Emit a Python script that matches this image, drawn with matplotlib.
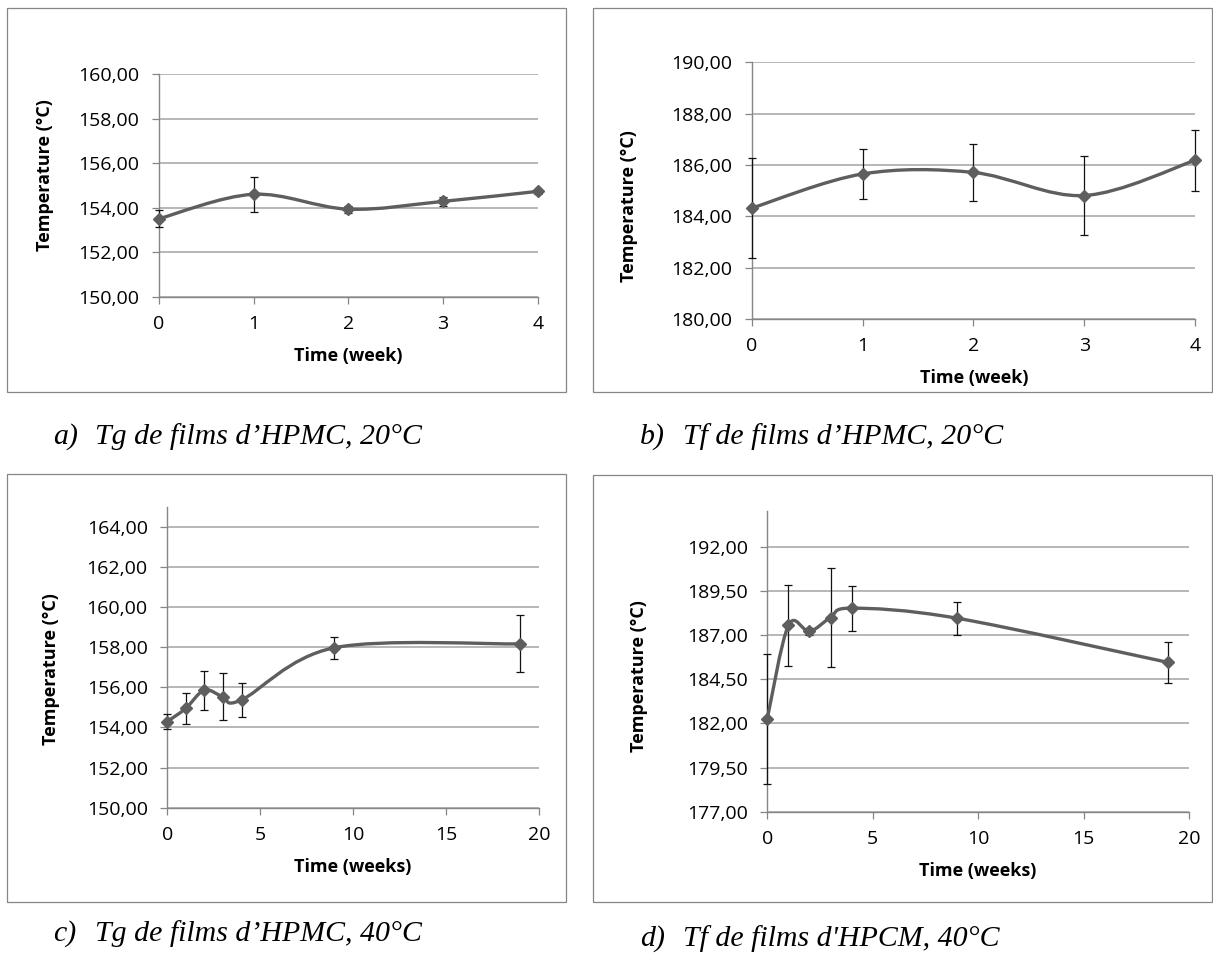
import numpy as np
import matplotlib
matplotlib.use("Agg")
import matplotlib.pyplot as plt
from matplotlib.path import Path
from matplotlib.patches import PathPatch, Rectangle
from matplotlib.ticker import FuncFormatter, MultipleLocator

# ---------------- DATA ----------------
weeks_20 = [0, 1, 2, 3, 4]
tg_20 = [153.50, 154.60, 153.93, 154.28, 154.73]
tg_20_err = [0.39, 0.78, 0.15, 0.20, 0.10]
tf_20 = [184.32, 185.65, 185.71, 184.81, 186.18]
tf_20_err = [1.96, 0.97, 1.12, 1.55, 1.18]

weeks_40 = [0, 1, 2, 3, 4, 9, 19]
tg_40 = [154.29, 154.95, 155.86, 155.53, 155.37, 157.97, 158.16]
tg_40_err = [0.37, 0.77, 0.97, 1.16, 0.83, 0.54, 1.42]
tf_40 = [182.27, 187.54, 187.20, 187.99, 188.52, 187.95, 185.45]
tf_40_err = [3.68, 2.31, 0.20, 2.79, 1.27, 0.93, 1.17]

letters = ["a)", "b)", "c)", "d)"]
captions = ["Tg de films d\u2019HPMC, 20°C", "Tf de films d\u2019HPMC, 20°C",
            "Tg de films d\u2019HPMC, 40°C", "Tf de films d'HPCM, 40°C"]
x_labels = ["Time (week)", "Time (week)", "Time (weeks)", "Time (weeks)"]
y_label = "Temperature (°C)"
# ----------------------------------------

W, H = 1213, 959
LINE_COL = "#5e5e5e"
GRID_COL = "#a3a3a3"
AXIS_COL = "#868686"

plt.rcParams['font.family'] = ['Open Sans', 'DejaVu Sans']

fig = plt.figure(figsize=(W / 100, H / 100), dpi=100)


def fx(x):
    return x / W


def fy(y):
    return 1 - y / H


def smooth_path(x, y):
    # Excel-like smoothed line: cubic bezier through the points
    p = np.column_stack([x, y]).astype(float)
    n = len(p)
    verts = [p[0]]
    codes = [Path.MOVETO]
    for i in range(n - 1):
        p_prev = p[i - 1] if i > 0 else p[i]
        p_next = p[i + 2] if i + 2 < n else p[i + 1]
        c1 = p[i] + (p[i + 1] - p_prev) / 6
        c2 = p[i + 1] - (p_next - p[i]) / 6
        verts += [c1, c2, p[i + 1]]
        codes += [Path.CURVE4] * 3
    return Path(verts, codes)


def make_panel(box, ax_px, x, y, err, xlim, xstep, ylim, ystep, ytop_tick,
               xlab, xlab_pos, ylab_pos):
    # frame around the chart
    bx0, by0, bx1, by1 = box
    fig.patches.append(Rectangle((fx(bx0), fy(by1)), fx(bx1 - bx0), (by1 - by0) / H,
                                 transform=fig.transFigure, fill=False,
                                 edgecolor=AXIS_COL, lw=0.9))
    x0, x1, yt, yb = ax_px
    ax = fig.add_axes([fx(x0), fy(yb), fx(x1 - x0), (yb - yt) / H])
    ax.set_xlim(*xlim)
    ax.set_ylim(*ylim)
    ax.xaxis.set_major_locator(MultipleLocator(xstep))
    yt_vals = np.arange(ylim[0], ytop_tick + 1e-6, ystep)
    ax.set_yticks(yt_vals)
    ax.yaxis.set_major_formatter(FuncFormatter(lambda v, _: f"{v:.2f}".replace('.', ',')))
    ax.yaxis.grid(True, color=GRID_COL, lw=1.1)
    ax.set_axisbelow(True)
    for s in ['top', 'right']:
        ax.spines[s].set_visible(False)
    for s in ['left', 'bottom']:
        ax.spines[s].set_color(AXIS_COL)
        ax.spines[s].set_linewidth(1.0)
    ax.tick_params(axis='both', direction='out', length=5, width=0.9, color=AXIS_COL,
                   labelsize=14, labelcolor='black')
    ax.tick_params(axis='y', pad=9)
    ax.tick_params(axis='x', pad=8)

    ax.errorbar(x, y, yerr=err, fmt='none', ecolor='#111111', elinewidth=0.9,
                capsize=2.8, capthick=0.9, clip_on=False, zorder=3)
    ax.add_patch(PathPatch(smooth_path(x, y), facecolor='none', edgecolor=LINE_COL,
                           lw=2.4, capstyle='round', clip_on=False, zorder=4))
    ax.plot(x, y, linestyle='none', marker='D', markersize=6, color=LINE_COL,
            clip_on=False, zorder=5)

    fig.text(fx(xlab_pos[0]), fy(xlab_pos[1]), xlab, ha='center', va='center',
             fontsize=13, fontweight='bold')
    fig.text(fx(ylab_pos[0]), fy(ylab_pos[1]), y_label, ha='center', va='center',
             rotation=90, fontsize=13, fontweight='bold')
    return ax


make_panel((7, 8, 566, 392), (158.8, 537.7, 74, 296.7), weeks_20, tg_20, tg_20_err,
           (0, 4), 1, (150, 160), 2, 160, x_labels[0], (348, 356), (45, 175))
make_panel((593, 8, 1212, 392), (751.7, 1195, 62.3, 319), weeks_20, tf_20, tf_20_err,
           (0, 4), 1, (180, 190), 2, 190, x_labels[1], (974, 378), (629, 206))
make_panel((7, 474, 566, 902), (167.2, 538.8, 506.6, 807.7), weeks_40, tg_40, tg_40_err,
           (0, 20), 5, (150, 165), 2, 164, x_labels[2], (352.5, 866.7), (51, 669))
make_panel((593, 475, 1212, 902), (767.3, 1189, 511.3, 811.7), weeks_40, tf_40, tf_40_err,
           (0, 20), 5, (177, 194), 2.5, 192, x_labels[3], (978, 871), (639, 676))

# captions below each chart
cap_pos = [(52.7, 95, 444), (640, 683, 444), (52.7, 95, 941), (640, 683, 946)]
for letter, cap, (lx, cx, base) in zip(letters, captions, cap_pos):
    fig.text(fx(lx), fy(base), letter, ha='left', va='baseline', fontsize=21.5,
             family='Liberation Serif', style='italic')
    fig.text(fx(cx), fy(base), cap, ha='left', va='baseline', fontsize=21.5,
             family='Liberation Serif', style='italic')

fig.savefig("out.png", dpi=100)
